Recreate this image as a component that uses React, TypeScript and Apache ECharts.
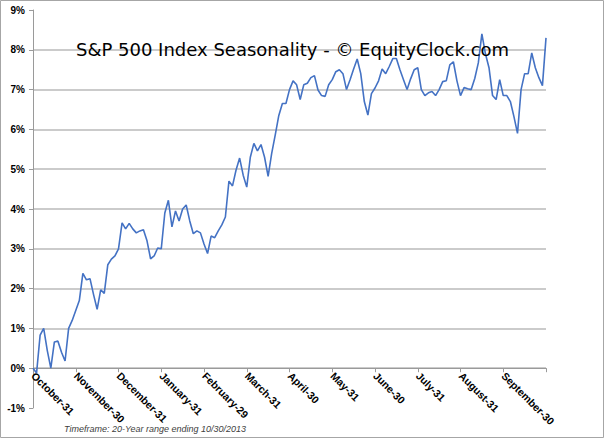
import React, { useEffect, useRef } from "react";
import * as echarts from "echarts";

const titleText = "S&P 500 Index Seasonality - © EquityClock.com";
const footerText = "Timeframe: 20-Year range ending 10/30/2013";

const monthLabels = [
  "October-31", "November-30", "December-31", "January-31", "February-29", "March-31",
  "April-30", "May-31", "June-30", "July-31", "August-31", "September-30",
];
const pointsPerMonth = 12;

const yTicks = [-1, 0, 1, 2, 3, 4, 5, 6, 7, 8, 9];

// Average seasonal return (%) from Oct-31, sampled 12 times per month
const seasonalReturn = [
  0.0, -0.12, 0.83, 1.0, 0.45, 0.0, 0.66, 0.68, 0.4, 0.18, 1.0, 1.2,
  1.45, 1.7, 2.38, 2.22, 2.25, 1.85, 1.48, 1.97, 1.88, 2.6, 2.74, 2.82,
  3.0, 3.65, 3.5, 3.64, 3.5, 3.4, 3.45, 3.48, 3.2, 2.75, 2.82, 3.02,
  3.0, 3.9, 4.22, 3.55, 3.95, 3.7, 4.0, 4.1, 3.7, 3.38, 3.45, 3.4,
  3.12, 2.88, 3.32, 3.28, 3.45, 3.6, 3.8, 4.7, 4.58, 4.98, 5.28, 4.85,
  4.55, 5.3, 5.65, 5.46, 5.62, 5.3, 4.82, 5.4, 5.86, 6.35, 6.65, 6.65,
  7.0, 7.22, 7.12, 6.75, 7.12, 7.16, 7.3, 7.35, 6.99, 6.85, 6.83, 7.12,
  7.25, 7.45, 7.5, 7.4, 7.0, 7.25, 7.52, 7.77, 7.4, 6.7, 6.36, 6.9,
  7.04, 7.22, 7.52, 7.4, 7.58, 7.78, 7.78, 7.5, 7.25, 7.0, 7.27, 7.5,
  7.55, 7.0, 6.85, 6.92, 6.95, 6.85, 7.0, 7.2, 7.22, 7.62, 7.7, 7.22,
  6.85, 7.05, 7.02, 7.0, 7.28, 7.67, 8.4, 7.9, 7.55, 6.85, 6.75, 7.25,
  6.85, 6.85, 6.7, 6.32, 5.9, 7.0, 7.4, 7.4, 7.92, 7.55, 7.3, 7.1,
  8.3,
];

const categories = seasonalReturn.map((_, i) => String(i));

const GRID_HEIGHT = 398;

export default function App() {
  const ref = useRef<HTMLDivElement>(null);

  useEffect(() => {
    if (!ref.current) return;
    const chart = echarts.init(ref.current, undefined, { renderer: "svg" });
    const lastIndex = seasonalReturn.length - 1;
    const yMin = yTicks[0];
    const yMax = yTicks[yTicks.length - 1];
    // put the category axis on the 0% line
    const zeroOffset = -((0 - yMin) / (yMax - yMin)) * GRID_HEIGHT;
    chart.setOption({
      animation: false,
      backgroundColor: "#ffffff",
      title: {
        text: titleText,
        left: 71,
        top: 35,
        textStyle: {
          fontFamily: "DejaVu Sans",
          fontSize: 18,
          fontWeight: "normal",
          color: "#000000",
        },
        z: 10,
      },
      grid: {
        left: 33,
        top: 10,
        width: 513,
        height: GRID_HEIGHT,
        containLabel: false,
        outerBoundsMode: "none",
      },
      xAxis: {
        type: "category",
        data: categories,
        boundaryGap: false,
        position: "bottom",
        offset: zeroOffset,
        axisLine: { onZero: false, lineStyle: { color: "#9a9a9a", width: 1 } },
        axisTick: {
          interval: (i: number) => i % pointsPerMonth === 0,
          length: 4,
          lineStyle: { color: "#9a9a9a" },
        },
        axisLabel: {
          interval: (i: number) => i % pointsPerMonth === 0 && i < lastIndex,
          formatter: (_v: string, i: number) => monthLabels[Math.round(i / pointsPerMonth)] ?? "",
          rotate: -45,
          margin: 6,
          fontFamily: "Liberation Sans",
          fontWeight: "bold",
          fontSize: 10.5,
          color: "#000000",
        },
        splitLine: { show: false },
      },
      yAxis: {
        type: "value",
        min: yMin,
        max: yMax,
        interval: 1,
        axisLine: { show: true, lineStyle: { color: "#9a9a9a", width: 1 } },
        axisTick: { show: true, length: 4, lineStyle: { color: "#9a9a9a" } },
        axisLabel: {
          formatter: "{value}%",
          margin: 8,
          fontFamily: "Liberation Sans",
          fontWeight: "bold",
          fontSize: 10,
          color: "#000000",
        },
        splitLine: {
          show: true,
          showMinLine: false,
          showMaxLine: false,
          lineStyle: { color: "#bababa", width: 1.5 },
        },
      },
      series: [
        {
          type: "line",
          data: seasonalReturn,
          showSymbol: false,
          symbol: "none",
          smooth: false,
          lineStyle: { color: "#4472c4", width: 1.6 },
          z: 3,
        },
      ],
      graphic: [
        {
          type: "rect",
          shape: { x: 0.5, y: 0.5, width: 603, height: 437 },
          style: { fill: "none", stroke: "#a6a6a6", lineWidth: 1 },
          silent: true,
          z: 0,
        },
        {
          type: "text",
          left: 64,
          top: 424,
          style: {
            text: footerText,
            fontFamily: "Liberation Sans",
            fontStyle: "italic",
            fontSize: 9,
            fill: "#404040",
          },
          z: 1,
        },
      ],
    });
    return () => chart.dispose();
  }, []);

  return (
    <div
      ref={ref}
      style={{ position: "fixed", left: 0, top: 0, width: 605, height: 439 }}
    />
  );
}
